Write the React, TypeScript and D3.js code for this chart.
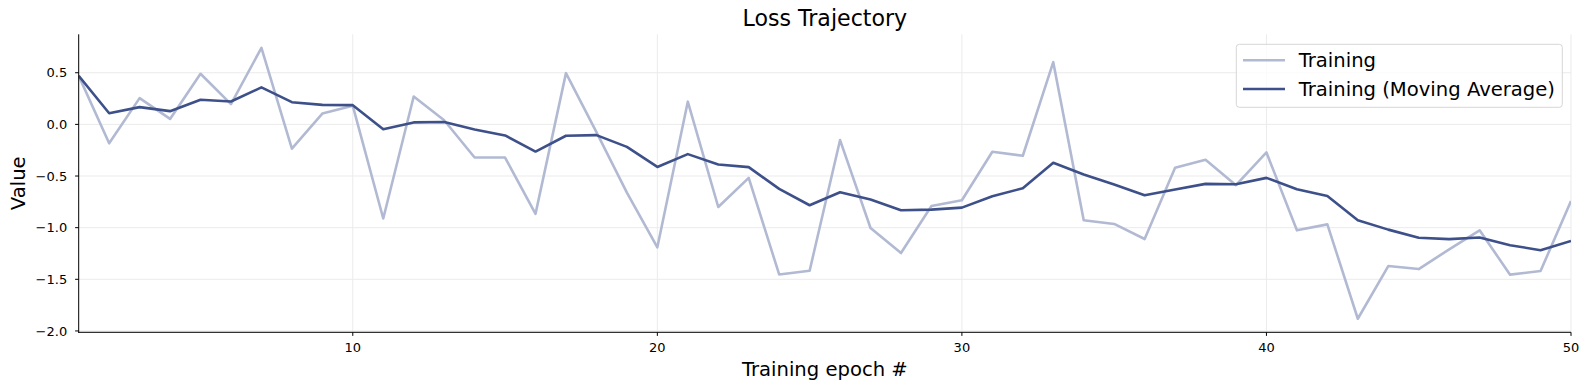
import React from "react";
import * as d3 from "d3";

const epochs: number[] = Array.from({ length: 50 }, (_, i) => i + 1);

const training: number[] = [
  0.47, -0.183, 0.254, 0.053, 0.49, 0.196, 0.741, -0.235, 0.105, 0.18,
  -0.911, 0.27, 0.04, -0.321, -0.321, -0.866, 0.496, -0.075, -0.66, -1.19,
  0.22, -0.8, -0.518, -1.453, -1.417, -0.152, -1.003, -1.246, -0.79, -0.735,
  -0.265, -0.304, 0.602, -0.929, -0.964, -1.11, -0.421, -0.343, -0.589, -0.272,
  -1.026, -0.968, -1.882, -1.372, -1.401, -1.21, -1.026, -1.455, -1.42, -0.742,
];

const movingAverage: number[] = [
  0.47, 0.108, 0.167, 0.128, 0.238, 0.222, 0.358, 0.215, 0.189, 0.186,
  -0.047, 0.019, 0.023, -0.049, -0.107, -0.263, -0.11, -0.104, -0.218, -0.412,
  -0.288, -0.388, -0.414, -0.625, -0.783, -0.657, -0.728, -0.832, -0.825, -0.806,
  -0.696, -0.618, -0.372, -0.485, -0.583, -0.686, -0.631, -0.576, -0.579, -0.518,
  -0.628, -0.693, -0.929, -1.019, -1.097, -1.111, -1.095, -1.17, -1.218, -1.128,
];

const xTicks: number[] = [10, 20, 30, 40, 50];
const yTicks: number[] = [0.5, 0.0, -0.5, -1.0, -1.5, -2.0];

const seriesNames: string[] = ["Training", "Training (Moving Average)"];
const seriesColors: string[] = ["#b2bad3", "#3d5089"];

const title = "Loss Trajectory";
const xLabel = "Training epoch #";
const yLabel = "Value";

const W = 1589;
const H = 390;
const left = 78.7;
const right = 1571;
const top = 34.3;
const bottom = 332.3;

const FONT = "DejaVu Sans, sans-serif";
const TICK_FS = 13;
const LABEL_FS = 19.6;
const TITLE_FS = 22.1;
const TICK_LEN = 3.6;

function fmt(v: number): string {
  const s = Math.abs(v).toFixed(1);
  return v < 0 ? "\u2212" + s : s;
}

export default function App() {
  const all = training.concat(movingAverage);
  const mn = d3.min(all) as number;
  const mx = d3.max(all) as number;
  const pad = (mx - mn) * 0.05;

  const x = d3.scaleLinear().domain([1, 50]).range([left, right]);
  const y = d3.scaleLinear().domain([mn - pad, mx + pad]).range([bottom, top]);

  const line = d3
    .line<number>()
    .x((_, i) => x(epochs[i]))
    .y((d) => y(d));

  const series = [training, movingAverage];

  const legX = 1236.3;
  const legY = 44.3;
  const legW = 326;
  const legH = 63;
  const rows = [60.3, 89];

  return (
    <svg
      width={W}
      height={H}
      style={{ position: "absolute", left: 0, top: 0, background: "#fff" }}
      fontFamily={FONT}
    >
      <rect x={0} y={0} width={W} height={H} fill="#fff" />
      <defs>
        <clipPath id="plotclip">
          <rect x={left} y={top} width={right - left} height={bottom - top} />
        </clipPath>
      </defs>

      {/* grid */}
      {xTicks.map((t) => (
        <line
          key={"gx" + t}
          x1={x(t)}
          x2={x(t)}
          y1={top}
          y2={bottom}
          stroke="#ebebeb"
          strokeWidth={1}
        />
      ))}
      {yTicks.map((t) => (
        <line
          key={"gy" + t}
          x1={left}
          x2={right}
          y1={y(t)}
          y2={y(t)}
          stroke="#ebebeb"
          strokeWidth={1}
        />
      ))}

      {/* lines */}
      <g clipPath="url(#plotclip)">
        {series.map((s, k) => (
          <path
            key={"s" + k}
            d={line(s) || ""}
            fill="none"
            stroke={seriesColors[k]}
            strokeWidth={2.6}
            strokeLinejoin="round"
          />
        ))}
      </g>

      {/* spines */}
      <line x1={left} x2={left} y1={top} y2={bottom + 0.5} stroke="#000" strokeWidth={1} />
      <line x1={left - 0.5} x2={right} y1={bottom} y2={bottom} stroke="#000" strokeWidth={1} />

      {/* x ticks */}
      {xTicks.map((t) => (
        <g key={"xt" + t}>
          <line x1={x(t)} x2={x(t)} y1={bottom} y2={bottom + TICK_LEN} stroke="#000" strokeWidth={1} />
          <text x={x(t)} y={352} fontSize={TICK_FS} textAnchor="middle" fill="#000">
            {String(t)}
          </text>
        </g>
      ))}

      {/* y ticks */}
      {yTicks.map((t) => (
        <g key={"yt" + t}>
          <line x1={left - TICK_LEN} x2={left} y1={y(t)} y2={y(t)} stroke="#000" strokeWidth={1} />
          <text
            x={67.2}
            y={y(t)}
            dy="0.36em"
            fontSize={TICK_FS}
            textAnchor="end"
            fill="#000"
          >
            {fmt(t)}
          </text>
        </g>
      ))}

      {/* labels */}
      <text x={(left + right) / 2} y={26} fontSize={TITLE_FS} textAnchor="middle" fill="#000">
        {title}
      </text>
      <text x={(left + right) / 2} y={376} fontSize={LABEL_FS} textAnchor="middle" fill="#000">
        {xLabel}
      </text>
      <text
        transform={`translate(24.5, ${(top + bottom) / 2}) rotate(-90)`}
        fontSize={LABEL_FS}
        textAnchor="middle"
        fill="#000"
      >
        {yLabel}
      </text>

      {/* legend */}
      <rect
        x={legX}
        y={legY}
        width={legW}
        height={legH}
        rx={3}
        ry={3}
        fill="#fff"
        fillOpacity={0.8}
        stroke="#d6d6d6"
        strokeWidth={1}
      />
      {seriesNames.map((n, k) => (
        <g key={"lg" + k}>
          <line
            x1={1243}
            x2={1285}
            y1={rows[k]}
            y2={rows[k]}
            stroke={seriesColors[k]}
            strokeWidth={2.6}
          />
          <text x={1298.7} y={rows[k]} dy="0.36em" fontSize={LABEL_FS} fill="#000">
            {n}
          </text>
        </g>
      ))}
    </svg>
  );
}
